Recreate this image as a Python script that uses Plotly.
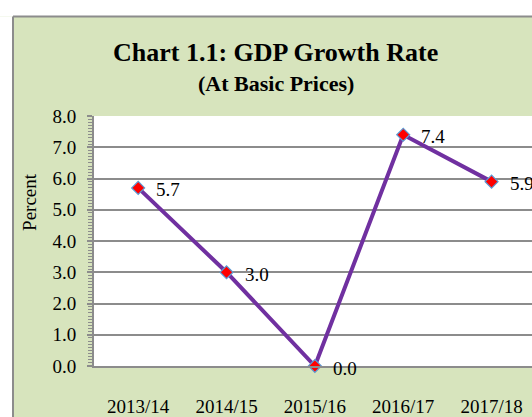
import plotly.graph_objects as go

jahre = ["2013/14", "2014/15", "2015/16", "2016/17", "2017/18"]
wachstum = [5.7, 3.0, 0.0, 7.4, 5.9]
y_ticks = [0, 1, 2, 3, 4, 5, 6, 7, 8]

schrift = "Liberation Serif, Times New Roman, serif"
hintergrund = "#D7E4BD"
grau = "#8C8C8C"

# Plotfläche in Pixeln: links 94, oben 116, unten 372, rechts bis Bildrand
links, oben, unten, breite = 94, 116, 372, 438
hoehe = unten - oben

def px_x(p):
    return (p - links) / breite

def px_y(p):
    return (unten - p) / hoehe

fig = go.Figure()
fig.add_trace(go.Scatter(
    x=jahre,
    y=wachstum,
    mode="lines+markers",
    line=dict(color="#7030A0", width=4),
    marker=dict(symbol="diamond", size=10, color="#FF0000",
                line=dict(color="#5B9BD5", width=1.2)),
    cliponaxis=False,
    showlegend=False,
    hoverinfo="skip",
))

# Datenbeschriftungen
for j, w in zip(jahre, wachstum):
    fig.add_annotation(x=j, y=w, text=f"{w:.1f}", showarrow=False,
                       xanchor="left", yanchor="middle", xshift=16, yshift=-2,
                       font=dict(family=schrift, size=19, color="black"))

# Titel
fig.add_annotation(x=px_x(275), y=px_y(51), xref="paper", yref="paper",
                   text="<b>Chart 1.1: GDP Growth Rate</b>", showarrow=False,
                   xanchor="center", yanchor="middle",
                   font=dict(family=schrift, size=26, color="black"))
fig.add_annotation(x=px_x(276), y=px_y(83), xref="paper", yref="paper",
                   text="<b>(At Basic Prices)</b>", showarrow=False,
                   xanchor="center", yanchor="middle",
                   font=dict(family=schrift, size=22, color="black"))
fig.add_annotation(x=px_x(30), y=px_y(204), xref="paper", yref="paper",
                   text="Percent", textangle=-90, showarrow=False,
                   xanchor="center", yanchor="middle",
                   font=dict(family=schrift, size=19, color="black"))

# weißer Rand oben/links und Rahmen des Diagrammbereichs
fig.add_shape(type="rect", xref="paper", yref="paper", layer="below",
              x0=px_x(-10), x1=px_x(560), y0=px_y(14), y1=px_y(-10),
              fillcolor="white", line_width=0)
fig.add_shape(type="rect", xref="paper", yref="paper", layer="below",
              x0=px_x(-10), x1=px_x(13), y0=px_y(14), y1=px_y(430),
              fillcolor="white", line_width=0)
fig.add_shape(type="line", xref="paper", yref="paper",
              x0=px_x(13), x1=px_x(560), y0=px_y(14), y1=px_y(14),
              line=dict(color=grau, width=2))
fig.add_shape(type="line", xref="paper", yref="paper",
              x0=px_x(13), x1=px_x(13), y0=px_y(14), y1=px_y(430),
              line=dict(color=grau, width=2))

fig.update_layout(
    width=532, height=417,
    margin=dict(l=links, r=532 - links - breite, t=oben, b=417 - unten, pad=0),
    paper_bgcolor=hintergrund,
    plot_bgcolor="white",
    font=dict(family=schrift, size=19, color="black"),
)
fig.update_xaxes(
    type="category",
    range=[-0.5, -0.5 + breite / 88.35],
    showgrid=False,
    showline=True, linecolor=grau, linewidth=2,
    ticks="", ticklabelstandoff=22,
    tickfont=dict(family=schrift, size=19, color="black"),
)
fig.update_yaxes(
    range=[0, 8],
    tickvals=y_ticks,
    ticktext=[f"{v:.1f}" for v in y_ticks],
    showgrid=True, gridcolor=grau, gridwidth=2,
    showline=True, linecolor=grau, linewidth=2,
    zeroline=False,
    ticks="outside", ticklen=5, tickcolor=grau, tickwidth=2,
    ticklabelstandoff=7,
    minor=dict(dtick=0.1, ticks="outside", ticklen=4, tickcolor=grau,
               tickwidth=1, showgrid=False),
    tickfont=dict(family=schrift, size=19, color="black"),
)

# Seitenrand des Browsers entfernen, damit die Grafik bei (0,0) beginnt
fig.write_html("out.html", config={"displayModeBar": False},
               post_script="document.body.style.margin='0';document.body.style.overflow='hidden';")
